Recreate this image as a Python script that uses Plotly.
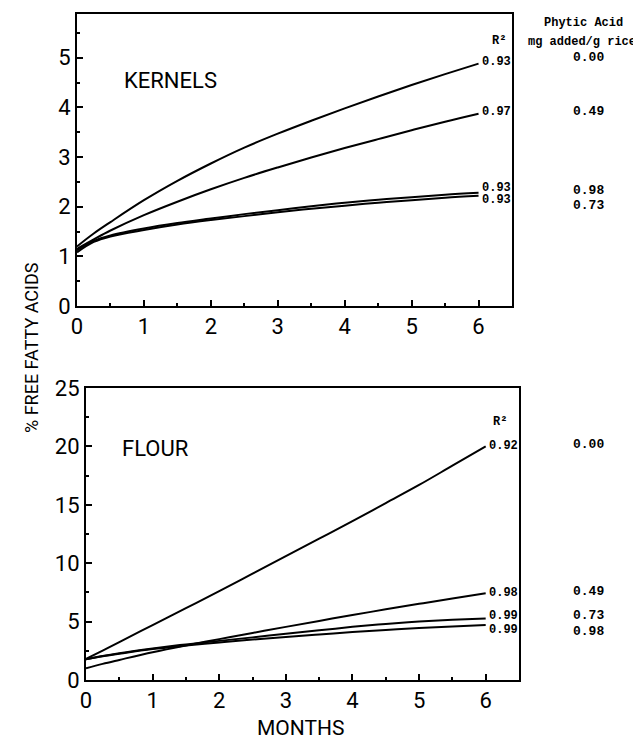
import plotly.graph_objects as go

# ---- data ----
months = [0, 0.25, 0.5, 1, 1.5, 2, 2.5, 3, 3.5, 4, 4.5, 5, 5.5, 6]

# KERNELS (% FFA), phytic acid added (mg/g rice)
k_000 = [1.20, 1.46, 1.69, 2.13, 2.52, 2.87, 3.19, 3.47, 3.73, 3.98, 4.22, 4.45, 4.67, 4.88]
k_049 = [1.15, 1.34, 1.52, 1.83, 2.10, 2.35, 2.58, 2.79, 2.99, 3.18, 3.36, 3.54, 3.71, 3.87]
k_098 = [1.12, 1.31, 1.42, 1.56, 1.67, 1.76, 1.85, 1.93, 2.01, 2.08, 2.14, 2.19, 2.24, 2.28]
k_073 = [1.08, 1.29, 1.40, 1.53, 1.64, 1.73, 1.81, 1.89, 1.96, 2.02, 2.08, 2.13, 2.18, 2.22]

# FLOUR (% FFA)
f_000 = [1.80, 2.52, 3.25, 4.70, 6.15, 7.60, 9.10, 10.6, 12.1, 13.6, 15.15, 16.7, 18.35, 20.0]
f_049 = [1.00, 1.38, 1.72, 2.38, 2.96, 3.50, 4.03, 4.55, 5.06, 5.56, 6.05, 6.52, 6.98, 7.42]
f_073 = [1.77, 2.06, 2.30, 2.70, 3.05, 3.35, 3.65, 3.95, 4.25, 4.55, 4.80, 5.00, 5.15, 5.27]
f_098 = [1.77, 2.03, 2.25, 2.65, 2.95, 3.22, 3.46, 3.69, 3.90, 4.10, 4.29, 4.45, 4.59, 4.70]

kernel_series = [("0.00", "0.93", k_000), ("0.49", "0.97", k_049),
                 ("0.98", "0.93", k_098), ("0.73", "0.93", k_073)]
flour_series = [("0.00", "0.92", f_000), ("0.49", "0.98", f_049),
                ("0.73", "0.99", f_073), ("0.98", "0.99", f_098)]

# label offsets (px) for R^2 and phytic labels
kernel_r2_shift = [2, 2, 5, -4]
kernel_pa_shift = [6, 2, 2, -10]
flour_r2_shift = [0, 0, 2, -5]
flour_pa_shift = [2, 2, 3, -6]

x_ticks = [0, 1, 2, 3, 4, 5, 6]
k_yticks = [0, 1, 2, 3, 4, 5]
f_yticks = [0, 5, 10, 15, 20, 25]

W, H = 641, 740
OFF = 8  # page body margin
SANS = "Roboto, Liberation Sans, Arial"
MONO = "Liberation Mono, Courier New, monospace"


def fx(px):
    return (px - OFF) / W


def fy(py):
    return 1 - (py - OFF) / H


fig = go.Figure()

for _, _, ys in kernel_series:
    fig.add_trace(go.Scatter(x=months, y=ys, mode="lines", line=dict(color="black", width=2, shape="spline"),
                             xaxis="x", yaxis="y", showlegend=False, hoverinfo="skip"))
for _, _, ys in flour_series:
    fig.add_trace(go.Scatter(x=months, y=ys, mode="lines", line=dict(color="black", width=2, shape="spline"),
                             xaxis="x2", yaxis="y2", showlegend=False, hoverinfo="skip"))

R2_FONT = dict(family=MONO, size=12, color="black", weight="bold")
PA_FONT = dict(family=MONO, size=13, color="black", weight="bold")

ann = []
pa_x = fx(588)
for (pa, r2, ys), s1, s2 in zip(kernel_series, kernel_r2_shift, kernel_pa_shift):
    ann.append(dict(x=months[-1], y=ys[-1], xref="x", yref="y", text=r2, showarrow=False,
                    xanchor="left", yanchor="middle", xshift=1, yshift=s1, font=R2_FONT))
    ann.append(dict(x=pa_x, y=ys[-1], xref="paper", yref="y", text=pa, showarrow=False,
                    xanchor="center", yanchor="middle", yshift=s2, font=PA_FONT))
for (pa, r2, ys), s1, s2 in zip(flour_series, flour_r2_shift, flour_pa_shift):
    ann.append(dict(x=months[-1], y=ys[-1], xref="x2", yref="y2", text=r2, showarrow=False,
                    xanchor="left", yanchor="middle", xshift=1, yshift=s1, font=R2_FONT))
    ann.append(dict(x=pa_x, y=ys[-1], xref="paper", yref="y2", text=pa, showarrow=False,
                    xanchor="center", yanchor="middle", yshift=s2, font=PA_FONT))


def label(px, py, text, font, anchor="center", angle=0):
    return dict(x=fx(px), y=fy(py), xref="paper", yref="paper", text=text, showarrow=False,
                xanchor=anchor, yanchor="middle", textangle=angle, font=font)


ann += [
    dict(x=6.3, y=5.33, xref="x", yref="y", text="R²", showarrow=False, xanchor="center", yanchor="middle",
         font=dict(family=MONO, size=12, color="black", weight="bold")),
    dict(x=6.22, y=22.1, xref="x2", yref="y2", text="R²", showarrow=False, xanchor="center", yanchor="middle",
         font=dict(family=MONO, size=12, color="black", weight="bold")),
    label(583, 23, "Phytic Acid", dict(family=MONO, size=12, color="black", weight="bold")),
    label(582, 42, "mg added/g rice", dict(family=MONO, size=12, color="black", weight="bold")),
    label(122, 80, "KERNELS", dict(family=SANS, size=22, color="black"), anchor="left"),
    label(120, 448, "FLOUR", dict(family=SANS, size=22, color="black"), anchor="left"),
    label(31, 348, "% FREE FATTY ACIDS", dict(family=SANS, size=18, color="black"), angle=-90),
    label(300, 728, "MONTHS", dict(family=SANS, size=21, color="black")),
]

axis_common = dict(showgrid=False, zeroline=False, showline=True, linecolor="black", linewidth=2,
                   mirror=True, ticks="inside", ticklen=6, tickwidth=1.5, tickcolor="black",
                   automargin=False,
                   tickfont=dict(family=SANS, size=22, color="black"))

fig.update_layout(
    template="none",
    width=W, height=H, margin=dict(l=0, r=0, t=0, b=0, pad=0, autoexpand=False),
    paper_bgcolor="white", plot_bgcolor="white", showlegend=False,
    xaxis=dict(domain=[fx(77), fx(512)], range=[0, 6.5], tickvals=x_ticks, anchor="y",
               minor=dict(dtick=0.5, ticks="inside", ticklen=3, tickcolor="black"), **axis_common),
    yaxis=dict(domain=[fy(306), fy(14)], range=[0, 5.88], tickvals=k_yticks, anchor="x",
               minor=dict(dtick=0.5, ticks="inside", ticklen=3, tickcolor="black"), **axis_common),
    xaxis2=dict(domain=[fx(86), fx(519)], range=[0, 6.5], tickvals=x_ticks, anchor="y2",
                minor=dict(dtick=0.5, ticks="inside", ticklen=3, tickcolor="black"), **axis_common),
    yaxis2=dict(domain=[fy(680), fy(388)], range=[0, 25], tickvals=f_yticks, anchor="x2",
                minor=dict(dtick=2.5, ticks="inside", ticklen=3, tickcolor="black"), **axis_common),
    annotations=ann,
)

fig.write_html("out.html")
